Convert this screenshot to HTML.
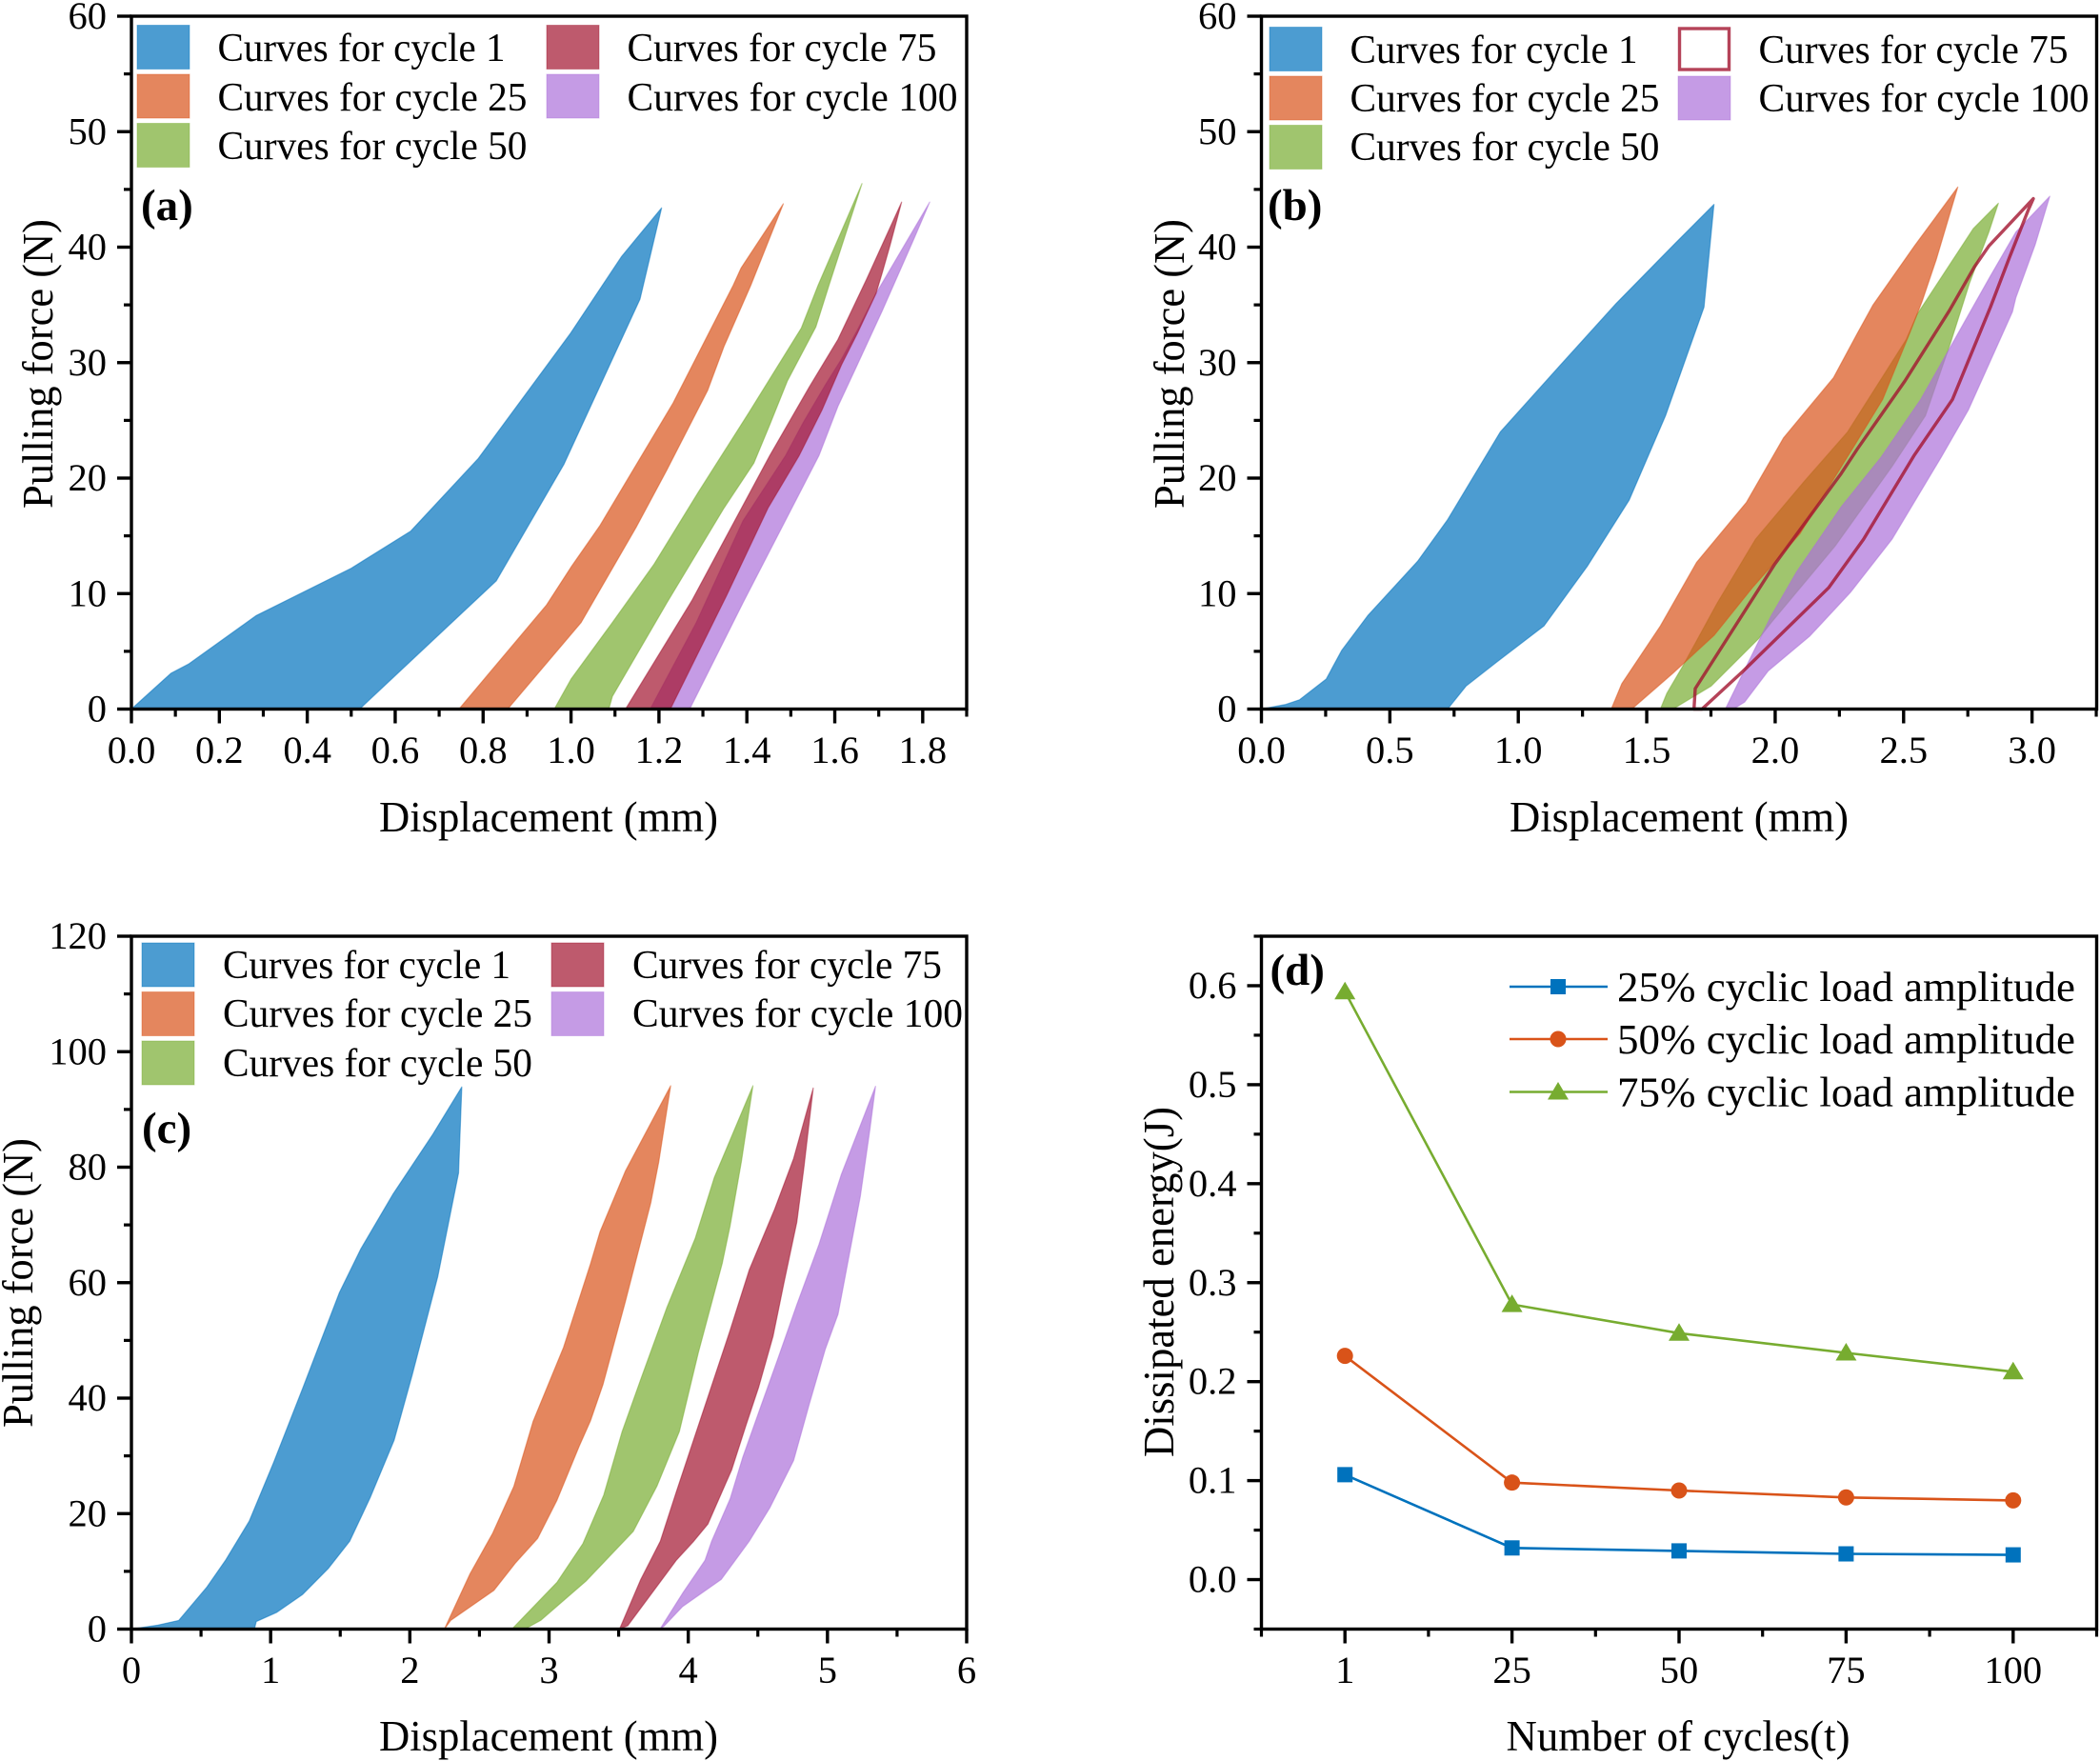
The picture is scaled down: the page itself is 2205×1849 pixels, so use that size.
<!DOCTYPE html>
<html lang="en">
<head>
<meta charset="utf-8">
<title>Cyclic loading curves and dissipated energy</title>
<style>
html,body{margin:0;padding:0;background:#fff;width:2205px;height:1849px;overflow:hidden}
svg{display:block;font-family:"Liberation Serif","Times New Roman",serif;fill:#000}
</style>
</head>
<body>
<svg id="figure" xmlns="http://www.w3.org/2000/svg" width="2205" height="1849" viewBox="0 0 2205 1849"></svg>
<script>
// ---------- DATA: panel (a) ----------
const aCycle1X=[0,0.09,0.13,0.284,0.5,0.635,0.789,0.998,1.115,1.206,1.157,0.984,0.83,0.519];
const aCycle1Y=[0,3.1,3.9,8.1,12.2,15.4,21.7,32.5,39.2,43.4,35.5,21.2,11.1,0];
const aCycle25X=[0.745,0.944,1,1.066,1.232,1.369,1.387,1.483,1.409,1.348,1.311,1.218,1.149,1.023,0.856];
const aCycle25Y=[0,9,12.3,15.9,26.5,36.7,38.2,43.75,36.7,31.4,27.6,20.7,15.8,7.5,0];
const aCycle50X=[0.962,1,1.094,1.188,1.29,1.405,1.524,1.562,1.662,1.587,1.557,1.492,1.452,1.416,1.348,1.218,1.094,1.086];
const aCycle50Y=[0,2.6,7.5,12.5,18.8,25.7,33,36.7,45.5,36.7,33.1,28.4,24.6,21.3,17.4,9.2,1.1,0];
const aCycle75X=[1.124,1.275,1.452,1.542,1.607,1.672,1.752,1.726,1.708,1.694,1.651,1.615,1.571,1.519,1.448,1.354,1.226];
const aCycle75Y=[0,9.4,21.95,27.9,32,37.2,43.9,40.2,37.8,36,32.5,29.8,25.9,21.95,17.4,9.85,0];
const aCycle100X=[1.18,1.285,1.391,1.488,1.528,1.579,1.615,1.651,1.694,1.816,1.781,1.708,1.651,1.607,1.564,1.391,1.27];
const aCycle100Y=[0,7.5,16.3,21.95,24.8,28.1,30.3,32.8,36,43.9,40.8,34.5,29.8,26.2,21.95,9.2,0];
// ---------- DATA: panel (b) ----------
const bCycle1X=[0,0.095,0.148,0.252,0.313,0.414,0.608,0.725,0.93,1.16,1.38,1.609,1.762,1.723,1.573,1.432,1.27,1.1,0.918,0.797,0.725];
const bCycle1Y=[0,0.4,0.8,2.6,5.1,8.1,12.8,16.4,24,29.7,35.1,40.3,43.7,34.8,25.4,18.1,12.4,7.2,4.1,2,0];
const bCycle25X=[1.362,1.403,1.553,1.694,1.888,2.033,2.227,2.319,2.381,2.542,2.711,2.627,2.572,2.523,2.418,2.319,2.097,1.911,1.763,1.602,1.442];
const bCycle25Y=[0,2.2,7.2,12.7,17.9,23.5,28.7,32.5,35,40.1,45.2,38.9,35.3,32.5,26.8,23.2,15.2,10.5,6.4,3.1,0];
const bCycle50X=[1.553,1.578,1.64,1.775,1.923,2.109,2.282,2.51,2.553,2.771,2.869,2.832,2.757,2.683,2.585,2.455,2.233,1.985,1.936,1.751,1.602];
const bCycle50Y=[0,1.35,3.7,9.2,14.7,19.6,24,32,34.2,41.6,43.8,41.3,36.9,31.7,25.4,21,14.1,7.5,6.1,2,0];
const bCycle75X=[1.684,1.689,1.997,2.257,2.319,2.505,2.678,2.776,2.832,3.005,2.987,2.912,2.838,2.69,2.542,2.344,2.208,1.874,1.715];
const bCycle75Y=[0,1.77,12.5,20.4,22.5,28.4,34.5,38.3,40.1,44.2,43.3,39.1,34.8,26.8,22,14.7,10.5,3.26,0];
const bCycle100X=[1.806,1.881,1.985,2.084,2.257,2.412,2.566,2.653,2.739,2.838,2.937,3.069,3.012,2.937,2.924,2.752,2.646,2.455,2.293,2.134,1.973,1.881,1.837];
const bCycle100Y=[0,3.4,8.1,11.9,17.5,21.8,26.8,30.2,33.6,37.5,41.3,44.4,40.2,35.6,34.4,25.9,21.8,14.7,10.1,6.3,3.3,0.6,0];
// ---------- DATA: panel (c) ----------
const cCycle1X=[0,0.19,0.34,0.54,0.675,0.846,1.022,1.23,1.494,1.647,1.878,2.165,2.373,2.35,2.2,2.017,1.887,1.716,1.568,1.415,1.23,1.045,0.897,0.883];
const cCycle1Y=[0,0.7,1.5,7.2,11.9,18.7,28.9,41.7,58.3,65.8,75.3,85.7,93.9,79,61,44,32.7,22.8,15.2,10.5,6,2.9,1.3,0];
const cCycle25X=[2.248,2.433,2.595,2.747,2.886,3.104,3.298,3.366,3.548,3.874,3.788,3.731,3.548,3.388,3.298,3.219,3.057,2.918,2.757,2.604,2.294];
const cCycle25Y=[0,9.6,16.6,24.7,36,48.8,63.3,68.8,79.3,94.1,80.9,73.8,56.7,42.4,36.1,31.8,22.3,15.7,11.4,6.7,1.5];
const cCycle50X=[2.733,3.057,3.243,3.393,3.525,3.662,3.845,4.05,4.187,4.465,4.381,4.301,4.244,4.073,3.936,3.776,3.605,3.265,2.94,2.826];
const cCycle50Y=[0,8.1,14.8,23.2,34.2,43.5,55.6,67.7,78.2,94.1,80.9,69.9,63.3,47.9,34.2,24.8,16.9,8.3,1.5,0];
const cCycle75X=[3.506,3.659,3.799,3.913,4.004,4.141,4.301,4.438,4.62,4.757,4.898,4.83,4.78,4.688,4.609,4.506,4.415,4.312,4.141,4.039,3.913,3.566];
const cCycle75Y=[0,8.6,15.2,23.7,30.3,40.2,51.8,62.2,72.7,81.5,93.7,79.8,70.5,60,50.7,41.9,35.3,27.6,18.2,15.2,11.9,0.6];
const cCycle100X=[3.797,3.959,4.12,4.168,4.301,4.392,4.529,4.643,4.78,4.939,5.099,5.345,5.304,5.236,5.145,5.076,4.985,4.871,4.757,4.586,4.438,4.237,3.959,3.83];
const cCycle100Y=[0,6.2,11.9,15.2,22.6,29.8,39.1,46.8,56.2,66.6,78.7,94,86.4,74.9,63.3,54.5,48.5,39.1,29.2,21,15.2,8.6,3.9,0.6];
// ---------- DATA: panel (d) ----------
const dCategories=["1","25","50","75","100"];
const dAmp25=[0.106,0.032,0.029,0.026,0.025];
const dAmp50=[0.226,0.098,0.09,0.083,0.08];
const dAmp75=[0.594,0.278,0.249,0.229,0.21];
// ---------- TICK LABELS ----------
const aXTicks=[0,0.2,0.4,0.6,0.8,1.0,1.2,1.4,1.6,1.8];
const bXTicks=[0,0.5,1.0,1.5,2.0,2.5,3.0];
const cXTicks=[0,1,2,3,4,5,6];
const forceTicks60=[0,10,20,30,40,50,60];
const forceTicks120=[0,20,40,60,80,100,120];
const energyTicks=[0,0.1,0.2,0.3,0.4,0.5,0.6];

const NS='http://www.w3.org/2000/svg';
const root=document.getElementById('figure');
function make(parent,tag,props,content){
  const n=document.createElementNS(NS,tag);
  for(const k in props){n.setAttribute(k,props[k]);}
  if(content!==undefined){n.textContent=content;}
  parent.appendChild(n);
  return n;
}
function scale(d0,d1,p0,p1){return v=>p0+(v-d0)/(d1-d0)*(p1-p0);}

const seriesStyle={
  1:{c:'#0072BD',label:'Curves for cycle 1'},
  25:{c:'#D95319',label:'Curves for cycle 25'},
  50:{c:'#77AC30',label:'Curves for cycle 50'},
  75:{c:'#A2142F',label:'Curves for cycle 75'},
  100:{c:'#AC70DA',label:'Curves for cycle 100'}
};

function drawAxes(g,o){
  const xs=o.xs, ys=o.ys;
  const axes=make(g,'g',{});
  
  
  o.xMinor.forEach(v=>{make(axes,'line',{x1:xs(v),x2:xs(v),y1:o.bottom,y2:o.bottom+8,stroke:'#000','stroke-width':3.2});});
  o.yMinor.forEach(v=>{make(axes,'line',{x1:o.left-8,x2:o.left,y1:ys(v),y2:ys(v),stroke:'#000','stroke-width':3.2});});
  o.xMajor.forEach((v,i)=>{
    make(axes,'line',{x1:xs(v),x2:xs(v),y1:o.bottom,y2:o.bottom+15,stroke:'#000','stroke-width':3.4});
    const t=make(axes,'text',{x:xs(v),y:o.xTickY,'text-anchor':'middle','font-size':40.5},o.xLabels[i]);
    
    
  });
  o.yMajor.forEach((v,i)=>{
    make(axes,'line',{x1:o.left-15,x2:o.left,y1:ys(v),y2:ys(v),stroke:'#000','stroke-width':3.4});
    const t=make(axes,'text',{x:o.left-26,y:ys(v)+13,'text-anchor':'end','font-size':40.5},o.yLabels[i]);
    
    
  });
  const xt=make(axes,'text',{x:o.xTitleX,y:o.xTitleY,'text-anchor':'middle','font-size':45,textLength:o.xTitleW,lengthAdjust:'spacingAndGlyphs'},o.xTitle);
  
  
  const yt=make(axes,'text',{transform:'translate('+o.yTitleX+','+o.yTitleY+') rotate(-90)','text-anchor':'middle','font-size':46,textLength:o.yTitleW,lengthAdjust:'spacingAndGlyphs'},o.yTitle);
  
  
}
function drawFrame(g,o){
  const fr=make(g,'rect',{x:o.left,y:o.top,width:o.right-o.left,height:o.bottom-o.top,fill:'none',stroke:'#000','stroke-width':3.4});
  
  
}
function range(start,end,step){const out=[];for(let v=start;v<=end+1e-6;v+=step){out.push(v);}return out;}

function drawLoop(g,xs,ys,X,Y,style,outlineOnly,cycle){
  const pts=X.map((v,i)=>xs(v).toFixed(1)+','+ys(Y[i]).toFixed(1)).join(' ');
  const p=make(g,'polygon',outlineOnly?
    {points:pts,fill:'none',stroke:style.c,'stroke-opacity':0.8,'stroke-width':3.4,'stroke-linejoin':'round'}:
    {points:pts,fill:style.c,'fill-opacity':0.7,stroke:style.c,'stroke-opacity':0.5,'stroke-width':1.2,'stroke-linejoin':'round'});
  
  
}
function drawLegend(g,pos,outlineCycle){
  [1,25,50,75,100].forEach((cyc,i)=>{
    const st=seriesStyle[cyc];
    const col=i<3?0:1, row=i<3?i:i-3;
    const sx=pos.sx[col], sy=pos.sy[row];
    const e=make(g,'g',{});
    
    
    make(e,'rect',outlineCycle===cyc?
      {x:sx+1.5,y:sy+1.5,width:pos.w-3,height:46-3,fill:'none',stroke:st.c,'stroke-opacity':0.8,'stroke-width':3.4}:
      {x:sx,y:sy,width:pos.w,height:46,fill:st.c,'fill-opacity':0.7,stroke:st.c,'stroke-opacity':0.4,'stroke-width':1});
    make(e,'text',{x:pos.tx[col],y:pos.ty[row],'font-size':42,textLength:st.label.length>19?347:(st.label.length>18?325:302),lengthAdjust:'spacingAndGlyphs'},st.label);
  });
}
function panelLabel(g,x,y,s){
  const t=make(g,'text',{x:x,y:y,'font-size':47,'font-weight':'bold'},s);
  
  
}

const drawOrder=[50,100,25,75,1];

function loopPanel(id,box,xMax,yMax,xStep,yStep,xTicks,xFmt,yTicks,data,leg,lab,xTickY,xTitleX,xTitleY,yTitleX,yTitleY,outlineCycle){
  const g=make(root,'g',{});
  
  
  const xs=scale(0,xMax,box.left,box.right), ys=scale(0,yMax,box.bottom,box.top);
  const plot=make(g,'g',{});
  
  
  drawOrder.forEach(c=>{
    drawLoop(plot,xs,ys,data[c][0],data[c][1],seriesStyle[c],outlineCycle===c,c);
  });
  drawAxes(g,{xs:xs,ys:ys,left:box.left,bottom:box.bottom,
    xMinor:range(xStep/2,xMax,xStep),yMinor:range(yStep/2,yMax,yStep),
    xMajor:xTicks,xLabels:xTicks.map(xFmt),yMajor:yTicks,yLabels:yTicks.map(String),
    xTickY:xTickY,xTitle:'Displacement (mm)',xTitleX:xTitleX,xTitleY:xTitleY,xTitleW:356,
    yTitle:'Pulling force (N)',yTitleX:yTitleX,yTitleY:yTitleY,yTitleW:304});
  drawFrame(g,box);
  drawLegend(g,leg,outlineCycle);
  panelLabel(g,lab[0],lab[1],lab[2]);
}

loopPanel('a',{left:138,right:1015,top:17,bottom:744.5},1.9,60,0.2,10,aXTicks,v=>v.toFixed(1),forceTicks60,
  {1:[aCycle1X,aCycle1Y],25:[aCycle25X,aCycle25Y],50:[aCycle50X,aCycle50Y],75:[aCycle75X,aCycle75Y],100:[aCycle100X,aCycle100Y]},
  {sx:[144,574],sy:[26.5,78,129.5],w:55,tx:[228.5,658.5],ty:[64,116,167]},[148,231,'(a)'],801,576,873,55,382);

loopPanel('b',{left:1324.5,right:2201.5,top:17,bottom:744.5},3.2516,60,0.5,10,bXTicks,v=>v.toFixed(1),forceTicks60,
  {1:[bCycle1X,bCycle1Y],25:[bCycle25X,bCycle25Y],50:[bCycle50X,bCycle50Y],75:[bCycle75X,bCycle75Y],100:[bCycle100X,bCycle100Y]},
  {sx:[1333,1762],sy:[28.5,80,131.5],w:55,tx:[1417.5,1846.5],ty:[66,117,168]},[1331,231,'(b)'],801,1763,873,1243,382,75);

loopPanel('c',{left:138,right:1015,top:983,bottom:1710.5},6,120,1,20,cXTicks,v=>String(v),forceTicks120,
  {1:[cCycle1X,cCycle1Y],25:[cCycle25X,cCycle25Y],50:[cCycle50X,cCycle50Y],75:[cCycle75X,cCycle75Y],100:[cCycle100X,cCycle100Y]},
  {sx:[149,579],sy:[990,1041.5,1093],w:55,tx:[234,664],ty:[1027,1078,1130]},[149,1200,'(c)'],1767,576,1838,34,1347);

// ---------- panel (d) ----------
(function(){
  const box={left:1324.5,right:2201.5,top:983,bottom:1710.5};
  const g=make(root,'g',{});
  
  
  const xs=scale(0.5,5.5,box.left,box.right), ys=scale(-0.05,0.65,box.bottom,box.top);
  const idx=dCategories.map((c,i)=>i+1);
  drawAxes(g,{xs:xs,ys:ys,left:box.left,bottom:box.bottom,
    xMinor:range(0.5,5.5,1),yMinor:range(-0.05,0.65,0.1),
    xMajor:idx,xLabels:dCategories,yMajor:energyTicks,yLabels:energyTicks.map(v=>v.toFixed(1)),
    xTickY:1767,xTitle:'Number of cycles(t)',xTitleX:1762,xTitleY:1838,xTitleW:361,
    yTitle:'Dissipated energy(J)',yTitleX:1232,yTitleY:1346,yTitleW:368});
  function marker(parent,kind,x,y,c){
    if(kind==='square'){return make(parent,'rect',{x:x-8,y:y-8,width:16,height:16,fill:c});}
    if(kind==='circle'){return make(parent,'circle',{cx:x,cy:y,r:8.5,fill:c});}
    return make(parent,'polygon',{points:(x)+','+(y-10.5)+' '+(x+11)+','+(y+8)+' '+(x-11)+','+(y+8),fill:c});
  }
  const lines=[
    {v:dAmp25,c:'#0072BD',k:'square',label:'25% cyclic load amplitude',name:'amp-25'},
    {v:dAmp50,c:'#D95319',k:'circle',label:'50% cyclic load amplitude',name:'amp-50'},
    {v:dAmp75,c:'#77AC30',k:'triangle',label:'75% cyclic load amplitude',name:'amp-75'}
  ];
  const legendY=[1036,1091,1146.5];
  lines.forEach((s,j)=>{
    const sg=make(g,'g',{});
    
    
    make(sg,'polyline',{points:s.v.map((v,i)=>xs(idx[i]).toFixed(1)+','+ys(v).toFixed(1)).join(' '),fill:'none',stroke:s.c,'stroke-width':2.6});
    s.v.forEach((v,i)=>{
      const m=marker(sg,s.k,xs(idx[i]),ys(v),s.c);
      
      
    });
    const le=make(g,'g',{});
    
    
    make(le,'line',{x1:1585,x2:1688,y1:legendY[j],y2:legendY[j],stroke:s.c,'stroke-width':2.6});
    marker(le,s.k,1636,legendY[j],s.c);
    make(le,'text',{x:1698,y:legendY[j]+15,'font-size':44,textLength:481,lengthAdjust:'spacingAndGlyphs'},s.label);
  });
  drawFrame(g,box);
  panelLabel(g,1333.5,1034,'(d)');
})();
</script>
</body>
</html>
